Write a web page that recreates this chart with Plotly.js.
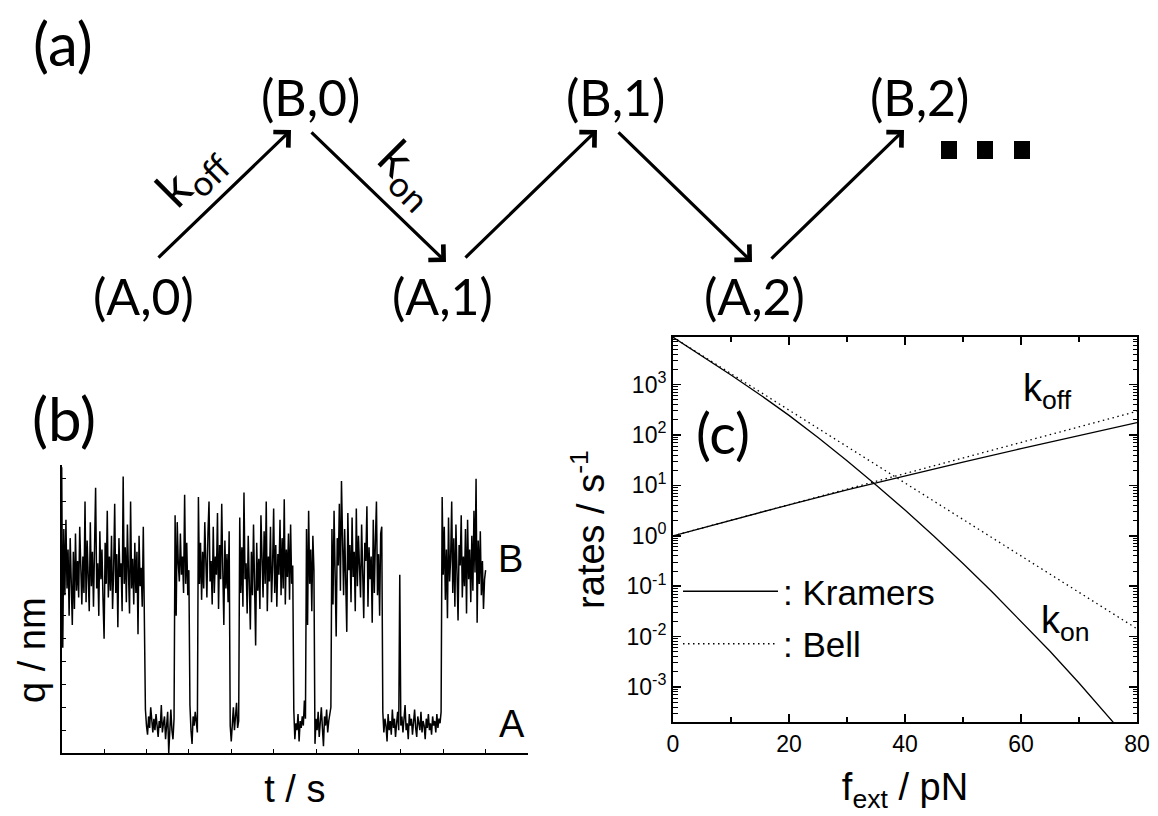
<!DOCTYPE html>
<html><head><meta charset="utf-8">
<script src="https://cdn.plot.ly/plotly-3.0.1.min.js"></script>
<style>html,body{margin:0;padding:0;background:#fff}#chart{width:1158px;height:816px}</style>
</head><body><div id="chart"></div>
<script>
const W = 1158, H = 816;

// ---------- panel (c): rates vs external force ----------
const forceFine = [0,5,10,15,20,25,30,35,40,45,50,55,60,65,70,75,80];
const konKramers = [8710,3720,1550,631,245,89,31,10.2,3.24,0.977,0.282,0.0776,0.0204,0.00513,0.0012,0.000269,0.0000575];
const forceCoarse = [0,10,20,30,40,50,60,70,80];
const konBell = [8710,1650,312,59,11.2,2.11,0.40,0.0757,0.0143];
const koffKramers = [1,2.04,4.12,8.17,15.5,28.8,53.7,97.7,176];
const koffBell = [1,2.04,4.15,8.44,17.2,35.0,71.3,145,295];
const rateTickVals = [1e-3,1e-2,1e-1,1,10,100,1000];
const rateTickText = ['10<sup>-3</sup>','10<sup>-2</sup>','10<sup>-1</sup>','10<sup>0</sup>','10<sup>1</sup>','10<sup>2</sup>','10<sup>3</sup>'];
const forceTickVals = [0,20,40,60,80];

// ---------- panel (b): extension trace q(t), segments in time order ----------
const tStep = 0.025;
const qB1 = [12.5,4.6,9.8,6.9,10.2,7.2,8.9,6.0,9.4,7.5,
 5.6,8.8,6.3,9.6,7.1,8.4,6.8,9.9,7.6,6.5,
 8.6,7.0,11.0,6.6,9.3,7.8,6.2,10.1,7.3,8.8,
 6.4,9.0,11.6,7.2,8.3,6.0,9.7,7.6,8.9,6.7,
 5.0,9.2,7.4,10.6,6.8,8.6,7.1,9.5,6.3,8.0,
 10.9,7.0,8.7,5.5,9.4,7.7,8.3,6.2,12.1,7.4,
 9.0,6.6,10.0,7.9,6.1,11.0,7.2,8.5,6.5,9.2,
 7.0,8.8,5.2,9.5,7.3,8.1,6.4,9.9,6.0];
const qA1 = [1.9,1.2,0.8,1.6,1.1,2.0,1.3,0.9,1.5,1.0,
 1.7,1.2,0.7,1.4,1.1,2.1,0.9,1.3,1.6,0.6,
 1.2,1.8,0.0,1.4,1.9,1.0,0.6,1.5];
const qB2 = [10.4,6.0,10.1,8.3,7.5,9.6,7.8,8.6,7.0,11.3,7.4,9.2,6.9,8.0];
const qA2 = [2.1,1.0,0.4,1.6,1.2,1.8,1.4,0.9];
const qB3 = [11.2,7.4,9.2,6.7,8.8,7.2,10.1,8.0,6.8,9.6,
 11.0,7.5,8.4,6.5,9.9,7.0,8.6,7.8,10.5,6.3,
 9.1,7.6,10.9,8.0,5.6,9.3,7.2,8.7,6.6,9.7];
const qA3 = [1.2,0.5,1.5,2.0,1.0,1.6,2.2,1.1,1.4];
const qB4 = [10.3,7.0,9.0,6.4,11.4,7.6,8.3,6.1,9.5,7.3,
 5.4,8.8,6.9,10.0,7.7,4.7,9.2,7.1,8.5,6.3,
 10.4,7.9,6.8,9.7,7.4,11.0,6.2,8.6,7.5,9.9,
 6.6,8.2,10.7,7.0,9.1,6.4,8.7,7.8,10.2,6.9,
 9.4,7.2,11.1,6.5,8.9,7.7,9.6,6.7,10.0,7.4,8.2];
const qA4 = [1.9,0.6,1.3,1.0,1.7,0.5,1.4,1.1,1.6,1.2,2.3,1.5];
const qB5 = [9.8,5.6,10.6,7.4,8.9,6.2,9.5,8.0];
const qA5 = [0.4,1.5,1.0,1.8,0.7,1.3,2.0,1.1,0.3,1.6,1.2,1.9,0.9,1.4,1.7,2.0];
const qB6 = [9.8,6.5,10.6,7.8,5.1,9.4,8.2,10.9,7.1,11.9,
 8.5,6.9,9.8,7.4,5.3,10.5,8.0,9.1,6.6,10.3,
 7.7,8.8,6.2,10.7,7.3,9.5,8.1,6.8,10.0,7.5,
 5.9,9.2,8.4,10.8,6.4,9.0,7.6,8.6,5.7,10.2,
 7.0,9.3,11.0,6.9,8.7,6.0,9.6,9.9];
const qA6 = [1.8,0.9,1.5,1.2,0.5,1.7,1.0,1.4,0.8,1.9,
 1.1,1.5,0.7,1.3,1.8,1.0,7.8,1.2,1.6,0.9,
 1.4,2.1,1.0,1.3,0.6,1.7,1.2,1.5,0.8,1.4,
 1.9,1.1,0.7,1.6,1.3,1.0,1.8,0.9,1.4,1.2,
 0.6,1.5,1.1,1.7,1.0,1.3,0.8,1.6,1.2,1.4,
 0.9,1.7,1.1,1.5,1.3,1.8];
const qB7 = [11.2,7.8,9.9,6.7,8.9,5.9,10.3,7.5,8.5,11.0,
 7.0,9.4,6.4,10.0,7.9,5.8,9.1,8.2,10.4,6.8,
 8.6,7.3,9.8,6.1,10.2,7.6,8.9,6.6,9.5,7.1,
 10.6,7.9,12.0,5.7,9.3,7.4,9.7,6.9,8.4,6.3,7.6,8.0];

const qTrace = [].concat(qB1,qA1,qB2,qA2,qB3,qA3,qB4,qA4,qB5,qA5,qB6,qA6,qB7);
const tTrace = qTrace.map((_, i) => i * tStep);

// helpers: pixel -> paper
const PX = x => x / W;
const PY = y => 1 - y / H;

const traces = [
  {x: tTrace, y: qTrace, xaxis: 'x', yaxis: 'y', mode: 'lines', showlegend: false,
   line: {color: '#000', width: 1.5}, hoverinfo: 'skip'},
  {x: forceCoarse, y: koffKramers, xaxis: 'x2', yaxis: 'y2', mode: 'lines', name: ': Kramers',
   legendgroup: 'kr', line: {color: '#000', width: 1.3}},
  {x: forceFine, y: konKramers, xaxis: 'x2', yaxis: 'y2', mode: 'lines', showlegend: false,
   legendgroup: 'kr', line: {color: '#000', width: 1.3}},
  {x: forceCoarse, y: koffBell, xaxis: 'x2', yaxis: 'y2', mode: 'lines', name: ': Bell',
   legendgroup: 'be', line: {color: '#000', width: 1.3, dash: '1.5px,3.5px'}},
  {x: forceCoarse, y: konBell, xaxis: 'x2', yaxis: 'y2', mode: 'lines', showlegend: false,
   legendgroup: 'be', line: {color: '#000', width: 1.3, dash: '1.5px,3.5px'}}
];

// minor tick positions for log axis (2..9 per decade)
const minorLog = [];
for (let e = -4; e <= 3; e++) for (let m = 2; m <= 9; m++) minorLog.push(m * Math.pow(10, e));

const diagFont = {family: 'Lato, "Open Sans", sans-serif', color: '#000'};
const arialFont = {family: '"Liberation Sans", Arial, sans-serif', color: '#000'};

function txt(text, x, y, size, extra) {
  return Object.assign({text: text, x: PX(x), y: PY(y), xref: 'paper', yref: 'paper',
    xanchor: 'center', yanchor: 'middle', showarrow: false,
    font: Object.assign({}, diagFont, {size: size})}, extra || {});
}
function arrow(tx, ty, hx, hy) {
  return {text: '', x: PX(hx), y: PY(hy), xref: 'paper', yref: 'paper',
    ax: tx - hx, ay: ty - hy, axref: 'pixel', ayref: 'pixel', showarrow: true,
    arrowhead: 4, arrowsize: 1.3, arrowwidth: 3.2, arrowcolor: '#000'};
}
// continuation dots "..." of the reaction scheme
const dotCentersX = [949, 985, 1022];
const shapes = dotCentersX.map(cx => ({type: 'rect', xref: 'paper', yref: 'paper',
  x0: PX(cx - 8), x1: PX(cx + 8), y0: PY(159), y1: PY(141),
  fillcolor: '#000', line: {width: 0}}));

const annotations = [
  txt('(a)', 63, 43, 60),
  txt('(b)', 64, 418, 60),
  txt('(c)', 723, 432, 56),
  txt('(A,0)', 143, 296, 50),
  txt('(B,0)', 311, 97, 50),
  txt('(A,1)', 442, 296, 50),
  txt('(B,1)', 615, 97, 50),
  txt('(A,2)', 755, 296, 50),
  txt('(B,2)', 919, 97, 50),
  txt('k<sub>off</sub>', 190, 175, 50, {textangle: -45}),
  txt('k<sub>on</sub>', 409, 173, 50, {textangle: 45}),
  arrow(157, 259, 291, 130),
  arrow(310, 131, 446, 262),
  arrow(464, 259, 597, 130),
  arrow(617, 131, 752, 262),
  arrow(770, 260, 904, 130),
  txt('B', 510, 559, 38, {font: Object.assign({}, arialFont, {size: 38})}),
  txt('A', 512, 724, 38, {font: Object.assign({}, arialFont, {size: 38})}),
  txt('q / nm', 32, 650, 38, {textangle: -90, font: Object.assign({}, arialFont, {size: 38})}),
  {text: 'k<sub>off</sub>', x: 64.5, y: 2.87, xref: 'x2', yref: 'y2', showarrow: false,
   xanchor: 'center', yanchor: 'middle', font: Object.assign({}, arialFont, {size: 38})},
  {text: 'k<sub>on</sub>', x: 67.6, y: -1.72, xref: 'x2', yref: 'y2', showarrow: false,
   xanchor: 'center', yanchor: 'middle', font: Object.assign({}, arialFont, {size: 38})}
];

const layout = {
  width: W, height: H, margin: {l: 0, r: 0, t: 0, b: 0},
  paper_bgcolor: '#fff', plot_bgcolor: 'rgba(0,0,0,0)',
  hovermode: false,
  font: arialFont,
  xaxis: {domain: [PX(61.7), PX(528)], range: [0, 11], anchor: 'y',
    showline: true, linecolor: '#000', linewidth: 1.6, mirror: false,
    ticks: 'inside', ticklen: 4, tickwidth: 1, tickcolor: '#000', dtick: 1, tick0: 0,
    showticklabels: false, showgrid: false, zeroline: false,
    title: {text: 't / s', font: Object.assign({}, arialFont, {size: 38}), standoff: 22}},
  yaxis: {domain: [PY(753), PY(465)], range: [0, 12.6], anchor: 'x',
    showline: true, linecolor: '#000', linewidth: 1.6, mirror: false,
    ticks: 'inside', ticklen: 4, tickwidth: 1, tickcolor: '#000', dtick: 1, tick0: 0,
    showticklabels: false, showgrid: false, zeroline: false},
  xaxis2: {domain: [PX(673), PX(1137)], range: [0, 80], anchor: 'y2',
    showline: true, linecolor: '#000', linewidth: 2, mirror: 'allticks',
    ticks: 'inside', ticklen: 8, tickwidth: 1.5, tickcolor: '#000',
    tickmode: 'array', tickvals: forceTickVals,
    minor: {dtick: 10, tick0: 0, ticks: 'inside', ticklen: 5, tickwidth: 1.3, tickcolor: '#000', showgrid: false},
    tickfont: Object.assign({}, arialFont, {size: 23}),
    showgrid: false, zeroline: false,
    title: {text: 'f<sub>ext</sub> / pN', font: Object.assign({}, arialFont, {size: 38}), standoff: 18}},
  yaxis2: {domain: [PY(722), PY(337)], type: 'log', range: [-3.694, 3.944], anchor: 'x2',
    showline: true, linecolor: '#000', linewidth: 2, mirror: 'allticks',
    ticks: 'inside', ticklen: 8, tickwidth: 1.5, tickcolor: '#000',
    tickmode: 'array', tickvals: rateTickVals, ticktext: rateTickText,
    minor: {tickmode: 'array', tickvals: minorLog, ticks: 'inside', ticklen: 4.5, tickwidth: 1, tickcolor: '#000', showgrid: false},
    tickfont: Object.assign({}, arialFont, {size: 23}),
    showgrid: false, zeroline: false,
    title: {text: 'rates / s<sup>-1</sup>', font: Object.assign({}, arialFont, {size: 38}), standoff: 10}},
  showlegend: true,
  legend: {x: PX(678), y: PY(562), xanchor: 'left', yanchor: 'top',
    bgcolor: 'rgba(0,0,0,0)', borderwidth: 0, itemwidth: 95, tracegroupgap: 4,
    font: Object.assign({}, arialFont, {size: 35})},
  shapes: shapes,
  annotations: annotations
};

Plotly.newPlot('chart', traces, layout, {staticPlot: true, displayModeBar: false});
</script>
</body></html>
